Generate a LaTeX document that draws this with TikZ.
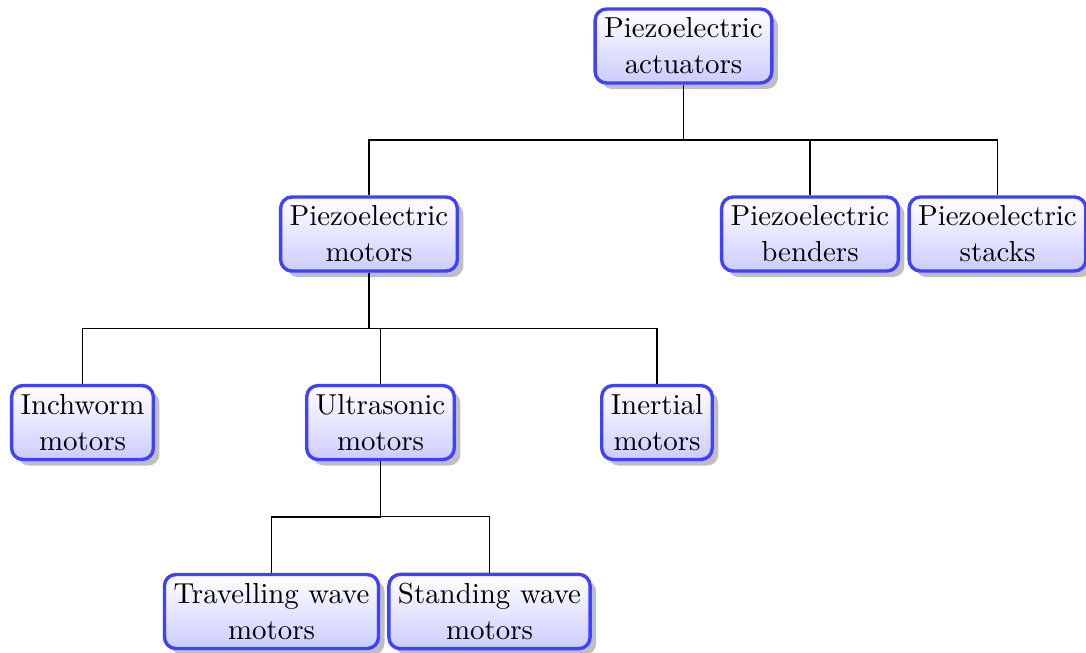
\documentclass[tikz,border=0pt]{standalone}
\usetikzlibrary{shadows,calc}
\begin{document}
\begin{tikzpicture}[x=0.3546pt,y=-0.3546pt,
  box/.style={draw=blue!75, very thick, rounded corners=4pt, top color=white, bottom color=blue!20, drop shadow, align=center, inner xsep=3.2pt, inner ysep=3.1pt, font=\fontsize{10.25pt}{12.8pt}\selectfont},
  fork/.style={draw, line width=0.4pt}]
\useasboundingbox (0,0) rectangle (1086,653);
\node[box] (root) at (683.5,46) {Piezoelectric\\actuators};
\node[box] (pm) at (369,234) {Piezoelectric\\motors};
\node[box] (pb) at (810,234) {Piezoelectric\\benders};
\node[box] (ps) at (997.5,234) {Piezoelectric\\stacks};
\node[box] (iw) at (82.5,422.5) {Inchworm\\motors};
\node[box] (us) at (380.5,422.5) {Ultrasonic\\motors};
\node[box] (in) at (657,422.5) {Inertial\\motors};
\node[box] (tw) at (271.5,611.5) {Travelling wave\\motors};
\node[box] (sw) at (489.5,611.5) {Standing wave\\motors};
\foreach \p/\c in {root/pm,root/pb,root/ps,pm/iw,pm/us,pm/in,us/tw,us/sw}
  \draw[fork] (\p.south) |- ($(\p.south)!0.5!(\c.north)$) -| (\c.north);
\end{tikzpicture}
\end{document}
